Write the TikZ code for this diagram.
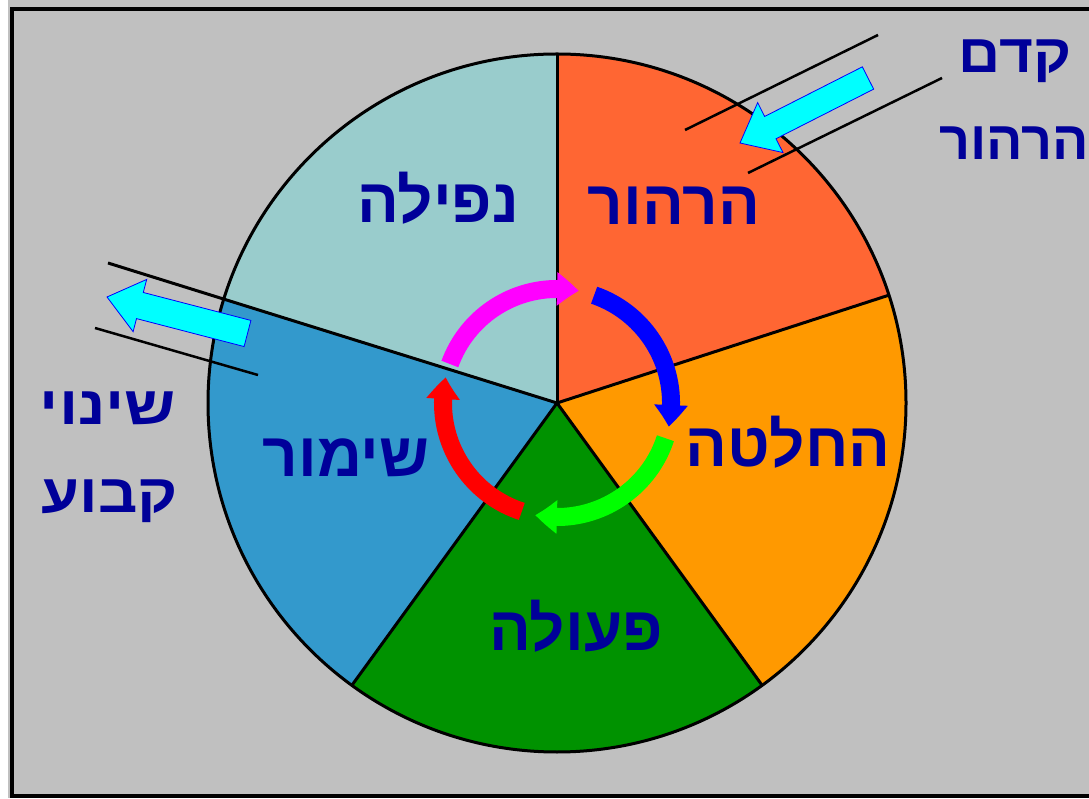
\documentclass[tikz,border=0pt]{standalone}
\usepackage{fontspec}
\usetikzlibrary{arrows.meta,bending,calc}
\newfontfamily\heb[Script=Hebrew]{Liberation Sans}
\TeXXeTstate=1
\definecolor{bg}{HTML}{C0C0C0}
\definecolor{navy}{HTML}{000099}
\definecolor{cTR}{HTML}{FF6633}
\definecolor{cR}{HTML}{FF9900}
\definecolor{cB}{HTML}{009200}
\definecolor{cL}{HTML}{3399CC}
\definecolor{cTL}{HTML}{99CCCC}
\definecolor{ringpink}{HTML}{FF00FF}
\definecolor{ringblue}{HTML}{0000FF}
\definecolor{ringgreen}{HTML}{00FF00}
\definecolor{ringred}{HTML}{FF0000}
\definecolor{arrcyan}{HTML}{00FFFF}
\tikzset{
  mainlbl/.style={text=navy, font=\heb\bfseries\fontsize{62}{62}\selectfont, anchor=base, inner sep=0pt},
  sidelbl/.style={text=navy, font=\heb\bfseries\fontsize{54}{54}\selectfont, anchor=base, inner sep=0pt},
  edge/.style={line width=3pt, black},
  thinline/.style={line width=2.5pt, black},
  ringarrow/.style={line width=18pt, -{Triangle[width=32pt,length=22pt,bend]}},
  blockarrow/.style={fill=arrcyan, draw=blue, line width=0.8pt, line join=miter}
}
\begin{document}
\begin{tikzpicture}[x=1pt,y=1pt]
\useasboundingbox (0,0) rectangle (1089,798);
\fill[bg] (0,0) rectangle (1089,798);
\fill[white] (0,0) rectangle (8,798);
\draw[line width=4pt] (1089,788.5) -- (11.5,788.5) -- (11.5,2) -- (1089,2);

\coordinate (O) at (557,395);
\def\R{349}
% sectors
\fill[cTR] (O) -- ++(90:\R) arc[start angle=90, end angle=18, radius=\R] -- cycle;
\fill[cR] (O) -- ++(18:\R) arc[start angle=18, end angle=-54, radius=\R] -- cycle;
\fill[cB] (O) -- ++(-54:\R) arc[start angle=-54, end angle=-126, radius=\R] -- cycle;
\fill[cL] (O) -- ++(-126:\R) arc[start angle=-126, end angle=-197.3, radius=\R] -- cycle;
\fill[cTL] (O) -- ++(162.7:\R) arc[start angle=162.7, end angle=90, radius=\R] -- cycle;
% boundaries
\coordinate (Lend) at (108,535);
\draw[edge] (O) -- ++(90:\R);
\draw[edge] (O) -- ++(18:\R);
\draw[edge] (O) -- ++(-54:\R);
\draw[edge] (O) -- ++(-126:\R);
\draw[edge] (O) -- (Lend);
\draw[edge] (O) circle[radius=\R];

% thin guide lines
\coordinate (tr1a) at (878,763); \coordinate (tr1b) at (685,668);
\coordinate (tr2a) at (942,720); \coordinate (tr2b) at (748,625);
\coordinate (l2a) at (95,470); \coordinate (l2b) at (258,423);
\draw[thinline] (tr1a) -- (tr1b);
\draw[thinline] (tr2a) -- (tr2b);
\draw[thinline] (l2a) -- (l2b);

% block arrow top right
\coordinate (aT) at (740,655);
\coordinate (aC) at (868,720);
\coordinate (aB) at ($(aT)!34pt!(aC)$);
\draw[blockarrow]
  ($(aC)!12.5pt!90:(aT)$) -- ($(aB)!12.5pt!90:(aT)$) -- ($(aB)!28pt!90:(aT)$) -- (aT)
  -- ($(aB)!28pt!-90:(aT)$) -- ($(aB)!12.5pt!-90:(aT)$) -- ($(aC)!12.5pt!-90:(aT)$) -- cycle;
% block arrow left
\coordinate (bT) at (107,501);
\coordinate (bC) at (247.5,464.5);
\coordinate (bB) at ($(bT)!34pt!(bC)$);
\draw[blockarrow]
  ($(bC)!13.5pt!90:(bT)$) -- ($(bB)!13.5pt!90:(bT)$) -- ($(bB)!27pt!90:(bT)$) -- (bT)
  -- ($(bB)!27pt!-90:(bT)$) -- ($(bB)!13.5pt!-90:(bT)$) -- ($(bC)!13.5pt!-90:(bT)$) -- cycle;

% ring arrows
\def\r{114}
\draw[ringarrow, ringpink] ($(O)+(160:\r)$) arc[start angle=160, end angle=79, radius=\r];
\draw[ringarrow, ringblue] ($(O)+(71:\r)$) arc[start angle=71, end angle=-12, radius=\r];
\draw[ringarrow, ringgreen] ($(O)+(-18:\r)$) arc[start angle=-18, end angle=-101, radius=\r];
\draw[ringarrow, ringred] ($(O)+(-108:\r)$) arc[start angle=-108, end angle=-193, radius=\r];

% labels
\node[mainlbl] (hirhur) at (674,573) {\beginR הרהור\endR};
\node[mainlbl] (nefila) at (438,575) {\beginR נפילה\endR};
\node[mainlbl] (hahlata) at (788,331) {\beginR החלטה\endR};
\node[mainlbl] (shimur) at (346,321) {\beginR שימור\endR};
\node[mainlbl] (peula) at (576,148) {\beginR פעולה\endR};
\node[sidelbl] (kodem) at (1015,725) {\scalebox{1.08}[1]{\beginR קדם\endR}};
\node[sidelbl] (hirhur2) at (1014,638) {\beginR הרהור\endR};
\node[sidelbl] (shinui) at (108,373) {\scalebox{1.18}[1]{\beginR שינוי\endR}};
\node[sidelbl] (kavua) at (110,285) {\scalebox{1.14}[1]{\beginR קבוע\endR}};
\end{tikzpicture}
\end{document}
